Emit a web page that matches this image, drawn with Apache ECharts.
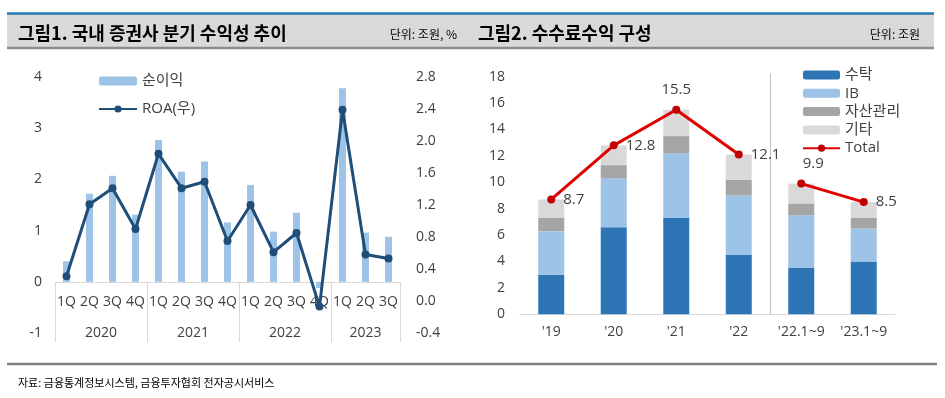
<!DOCTYPE html>
<html>
<head>
<meta charset="utf-8">
<script src="https://cdn.jsdelivr.net/npm/echarts@6/dist/echarts.min.js"></script>
<style>
  html, body { margin: 0; padding: 0; background: #fff; }
  #main { width: 945px; height: 398px; }
</style>
</head>
<body>
<div id="main"></div>
<script>
// 그림1. 국내 증권사 분기 수익성 추이 (조원, %)
var quarters = ['1Q', '2Q', '3Q', '4Q', '1Q', '2Q', '3Q', '4Q', '1Q', '2Q', '3Q', '4Q', '1Q', '2Q', '3Q'];
var years = ['2020', '2021', '2022', '2023'];
var yearSizes = [4, 4, 4, 3];
var netIncome = [0.40, 1.72, 2.07, 1.31, 2.77, 2.15, 2.35, 1.16, 1.89, 0.98, 1.35, -0.12, 3.78, 0.96, 0.88];
var roa = [0.31, 1.21, 1.41, 0.90, 1.84, 1.41, 1.49, 0.75, 1.20, 0.61, 0.85, -0.07, 2.39, 0.58, 0.53];
var leftTicks = [-1, 0, 1, 2, 3, 4];
var rightTicks = [-0.4, 0, 0.4, 0.8, 1.2, 1.6, 2.0, 2.4, 2.8];

// 그림2. 수수료수익 구성 (조원)
var periods = ["'19", "'20", "'21", "'22", "'22.1~9", "'23.1~9"];
var fullYears = 4; // 연간 실적 개수, 나머지는 1~9월 누적
var brokerage = [3.0, 6.6, 7.3, 4.5, 3.5, 4.0];
var ib = [3.3, 3.7, 4.9, 4.5, 4.0, 2.5];
var assetMgmt = [1.0, 1.0, 1.3, 1.2, 0.9, 0.8];
var others = [1.4, 1.5, 2.0, 1.9, 1.5, 1.2];
var totals = [8.7, 12.8, 15.5, 12.1, 9.9, 8.5];
var feeTicks = [0, 2, 4, 6, 8, 10, 12, 14, 16, 18];

var font = "'Open Sans', 'Noto Sans CJK KR', sans-serif";
var txt = '#404040';

// 연도 구분선 / 연도 라벨 위치
var yearBounds = [0];
var yearCenters = [];
var acc = 0;
yearSizes.forEach(function (n) {
  yearCenters.push(acc + n / 2);
  acc += n;
  yearBounds.push(acc);
});

var labelPos = ['right', 'right', 'top', 'right', 'top', 'right'];
var labelOffset = [[0, 0], [0, 0], [0, 0], [0, 0], [12, 0], [0, 0]];

function totalPart(from, to) {
  return totals.map(function (v, i) {
    if (i < from || i >= to) return '-';
    return { value: v, label: { position: labelPos[i], offset: labelOffset[i] } };
  });
}

var myChart = echarts.init(document.getElementById('main'));
myChart.setOption({
  animation: false,
  textStyle: { fontFamily: font, color: txt },
  grid: [
    { left: 55, right: 545, top: 77, bottom: 65 },
    { left: 520, right: 50, top: 76.7, bottom: 83.7 }
  ],
  legend: [
    {
      data: ['순이익', 'ROA(우)'],
      orient: 'vertical',
      left: 93, top: 68,
      itemWidth: 38, itemHeight: 9, itemGap: 12,
      textStyle: { fontSize: 15, color: txt, lineHeight: 16, fontFamily: font }
    },
    {
      data: ['수탁', 'IB', '자산관리', '기타', 'Total'],
      orient: 'vertical',
      left: 797, top: 62,
      itemWidth: 37, itemHeight: 9, itemGap: 2.3,
      textStyle: { fontSize: 15, color: txt, lineHeight: 16, fontFamily: font }
    }
  ],
  xAxis: [
    {
      type: 'category', gridIndex: 0, data: quarters,
      axisLine: { onZero: true, onZeroAxisIndex: 0, lineStyle: { color: '#D9D9D9' } },
      axisTick: { show: false },
      axisLabel: { interval: 0, margin: -38, fontSize: 14, color: txt }
    },
    {
      type: 'value', gridIndex: 0, min: 0, max: quarters.length, position: 'bottom',
      axisLine: { show: false, onZero: false },
      axisTick: { show: true, inside: true, length: 51, customValues: yearBounds, lineStyle: { color: '#D9D9D9' } },
      splitLine: { show: false },
      axisLabel: {
        customValues: yearCenters, margin: 0, verticalAlign: 'middle',
        fontSize: 14, color: txt,
        formatter: function (v) { return years[yearCenters.indexOf(v)]; }
      }
    },
    {
      type: 'value', gridIndex: 0, min: 0, max: quarters.length, position: 'bottom',
      axisLine: { show: false, onZero: false },
      axisTick: { show: true, length: 9, customValues: yearBounds, lineStyle: { color: '#D9D9D9' } },
      splitLine: { show: false },
      axisLabel: { show: false }
    },
    {
      type: 'category', gridIndex: 1, data: periods,
      axisLine: { lineStyle: { color: '#D9D9D9' } },
      axisTick: { show: false },
      axisLabel: { interval: 0, margin: 11, fontSize: 14, color: txt }
    },
    {
      type: 'value', gridIndex: 1, min: 0, max: periods.length, position: 'bottom',
      axisLine: { show: false, onZero: false },
      axisTick: { show: true, inside: true, length: 241, customValues: [fullYears], lineStyle: { color: '#BFBFBF' } },
      splitLine: { show: false },
      axisLabel: { show: false }
    }
  ],
  yAxis: [
    {
      type: 'value', gridIndex: 0, min: leftTicks[0], max: leftTicks[leftTicks.length - 1],
      interval: leftTicks[1] - leftTicks[0],
      axisLine: { show: false, onZero: false }, axisTick: { show: false }, splitLine: { show: false },
      axisLabel: { margin: 13, fontSize: 14, color: txt }
    },
    {
      type: 'value', gridIndex: 0, position: 'right',
      min: rightTicks[0], max: rightTicks[rightTicks.length - 1], interval: 0.4,
      axisLine: { show: false, onZero: false }, axisTick: { show: false }, splitLine: { show: false },
      axisLabel: { margin: 16, fontSize: 14, color: txt, formatter: function (v) { return v.toFixed(1); } }
    },
    {
      type: 'value', gridIndex: 1, min: feeTicks[0], max: feeTicks[feeTicks.length - 1],
      interval: feeTicks[1] - feeTicks[0],
      axisLine: { show: false, onZero: false }, axisTick: { show: false }, splitLine: { show: false },
      axisLabel: { margin: 15, fontSize: 14, color: txt }
    }
  ],
  series: [
    {
      name: '순이익', type: 'bar', xAxisIndex: 0, yAxisIndex: 0,
      data: netIncome, barWidth: 7,
      itemStyle: { color: '#9DC3E6' }
    },
    {
      name: 'ROA(우)', type: 'line', xAxisIndex: 0, yAxisIndex: 1,
      data: roa, symbol: 'circle', symbolSize: 8,
      itemStyle: { color: '#1F4E79' },
      lineStyle: { color: '#1F4E79', width: 3 }
    },
    {
      name: '수탁', type: 'bar', stack: 'fee', xAxisIndex: 3, yAxisIndex: 2,
      data: brokerage, barWidth: 26, itemStyle: { color: '#2E75B6' }
    },
    {
      name: 'IB', type: 'bar', stack: 'fee', xAxisIndex: 3, yAxisIndex: 2,
      data: ib, barWidth: 26, itemStyle: { color: '#9DC3E6' }
    },
    {
      name: '자산관리', type: 'bar', stack: 'fee', xAxisIndex: 3, yAxisIndex: 2,
      data: assetMgmt, barWidth: 26, itemStyle: { color: '#A5A5A5' }
    },
    {
      name: '기타', type: 'bar', stack: 'fee', xAxisIndex: 3, yAxisIndex: 2,
      data: others, barWidth: 26, itemStyle: { color: '#D9D9D9' }
    },
    {
      name: 'Total', type: 'line', xAxisIndex: 3, yAxisIndex: 2,
      data: totalPart(0, fullYears),
      symbol: 'circle', symbolSize: 8,
      itemStyle: { color: '#C00000' },
      lineStyle: { color: '#E00000', width: 3 },
      label: { show: true, fontSize: 15, color: txt, distance: 8 }
    },
    {
      name: 'Total', type: 'line', xAxisIndex: 3, yAxisIndex: 2,
      data: totalPart(fullYears, totals.length),
      symbol: 'circle', symbolSize: 8,
      itemStyle: { color: '#C00000' },
      lineStyle: { color: '#E00000', width: 3 },
      label: { show: true, fontSize: 15, color: txt, distance: 8 }
    }
  ],
  graphic: [
    { type: 'rect', silent: true, shape: { x: 7, y: 14, width: 927, height: 34 }, style: { fill: '#D9D9D9' } },
    { type: 'line', silent: true, shape: { x1: 7, y1: 13.5, x2: 934, y2: 13.5 }, style: { stroke: '#2878B0', lineWidth: 2.5 } },
    { type: 'line', silent: true, shape: { x1: 7, y1: 48, x2: 934, y2: 48 }, style: { stroke: '#8C8C8C', lineWidth: 2.5 } },
    { type: 'text', silent: true, x: 18, y: 33, style: { text: '그림1. 국내 증권사 분기 수익성 추이', fill: '#000', font: "bold 18px 'Noto Sans CJK KR'", verticalAlign: 'middle' } },
    { type: 'text', silent: true, x: 457, y: 34, style: { text: '단위: 조원, %', fill: '#000', font: "12px 'Noto Sans CJK KR'", align: 'right', verticalAlign: 'middle' } },
    { type: 'text', silent: true, x: 478, y: 33, style: { text: '그림2. 수수료수익 구성', fill: '#000', font: "bold 18px 'Noto Sans CJK KR'", verticalAlign: 'middle' } },
    { type: 'text', silent: true, x: 920, y: 34, style: { text: '단위: 조원', fill: '#000', font: "12px 'Noto Sans CJK KR'", align: 'right', verticalAlign: 'middle' } },
    { type: 'line', silent: true, shape: { x1: 7, y1: 364, x2: 937, y2: 364 }, style: { stroke: '#808080', lineWidth: 2.5 } },
    { type: 'text', silent: true, x: 18, y: 383, style: { text: '자료: 금융통계정보시스템, 금융투자협회 전자공시서비스', fill: '#000', font: "11px 'Noto Sans CJK KR'", verticalAlign: 'middle' } }
  ]
});
</script>
</body>
</html>
